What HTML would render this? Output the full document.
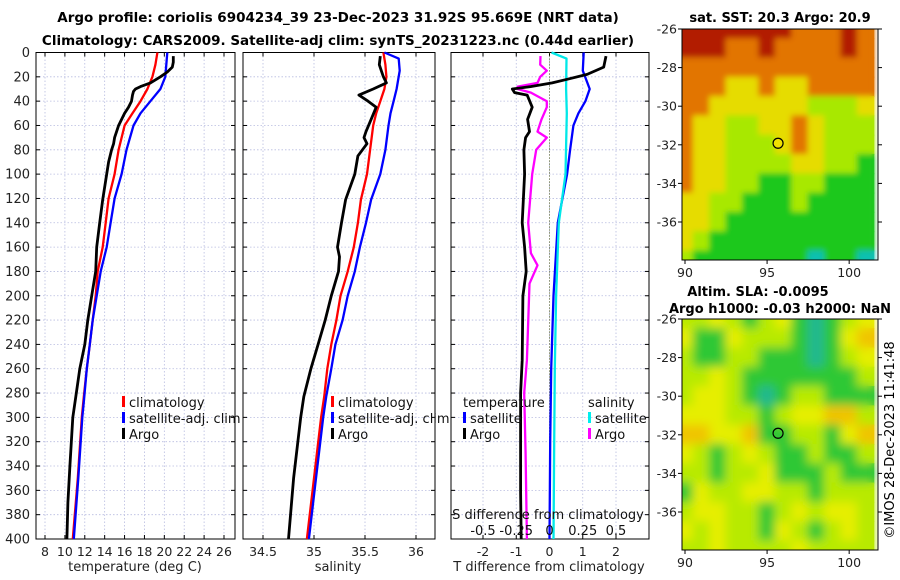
<!DOCTYPE html>
<html><head><meta charset="utf-8">
<style>
html,body{margin:0;padding:0;background:#fff;}
svg{display:block;font-family:"DejaVu Sans","Liberation Sans",sans-serif;}
</style></head>
<body>
<svg id="fig" width="900" height="580" viewBox="0 0 900 580" xmlns="http://www.w3.org/2000/svg">
<rect width="900" height="580" fill="#fff"/>
<text x="338" y="22" font-size="13.5" font-weight="bold" text-anchor="middle">Argo profile: coriolis 6904234_39 23-Dec-2023 31.92S 95.669E (NRT data)</text>
<text x="338" y="45" font-size="13.5" font-weight="bold" text-anchor="middle">Climatology: CARS2009. Satellite-adj clim: synTS_20231223.nc (0.44d earlier)</text>
<text x="780" y="22" font-size="13" font-weight="bold" text-anchor="middle">sat. SST: 20.3 Argo: 20.9</text>
<text x="758" y="296" font-size="13" font-weight="bold" text-anchor="middle">Altim. SLA: -0.0095</text>
<text x="780" y="313" font-size="13" font-weight="bold" text-anchor="middle">Argo h1000: -0.03 h2000: NaN</text>
<text transform="translate(894,440) rotate(-90)" font-size="13" text-anchor="middle">©IMOS 28-Dec-2023 11:41:48</text>
<g id="plots"></g>
</svg>
<script>
// ---------- data ----------
const depthTicks = [0,20,40,60,80,100,120,140,160,180,200,220,240,260,280,300,320,340,360,380,400];
const tTicks = [8,10,12,14,16,18,20,22,24,26];
const sTicks = [34.5,35,35.5,36];
const sTickLabels = ["34.5","35","35.5","36"];
const dtTicks = [-2,-1,0,1,2];
const dsTicks = [-0.5,-0.25,0,0.25,0.5];
const dsTickLabels = ["-0.5","-0.25","0","0.25","0.5"];

const tClimDepth = [0,10,20,30,40,50,60,80,100,120,140,160,180,200,220,240,260,283,300,350,400];
const tClim = [19.3,19.1,18.8,18.3,17.6,16.8,16.0,15.4,15.0,14.4,14.1,13.8,13.3,13.1,12.8,12.5,12.2,11.9,11.7,11.3,10.8];
const tSat = [20.3,20.2,20.1,19.6,18.6,17.6,16.9,16.2,15.7,15.0,14.6,14.2,13.6,13.2,12.8,12.5,12.2,11.95,11.75,11.35,10.9];
const tArgoDepth = [3,8,12,16,20,25,28,30,32,35,40,45,50,55,60,65,70,75,80,90,100,121,140,160,180,200,220,240,260,283,300,340,370,400];
const tArgo = [20.9,20.9,20.8,20.3,19.6,18.6,17.6,17.1,16.9,16.8,16.7,16.4,16.0,15.7,15.4,15.2,15.0,14.9,14.7,14.4,14.2,13.8,13.5,13.2,13.1,12.7,12.3,12.0,11.5,11.1,10.8,10.5,10.3,10.2];

const sClimDepth = [0,10,20,30,40,50,60,80,100,121,140,160,180,200,220,240,260,283,300,350,400];
const sClim = [35.68,35.70,35.71,35.69,35.65,35.61,35.58,35.55,35.52,35.46,35.43,35.39,35.33,35.26,35.22,35.17,35.13,35.10,35.07,35.00,34.93];
const sSatDepth = [0,5,15,30,40,50,60,80,100,121,140,160,180,200,220,240,260,283,300,350,400];
const sSat = [35.69,35.83,35.84,35.81,35.78,35.75,35.73,35.70,35.65,35.56,35.51,35.45,35.40,35.33,35.28,35.21,35.17,35.12,35.09,35.02,34.95];
const sArgoDepth = [3,10,15,20,25,30,35,40,45,55,65,70,75,85,100,121,140,160,168,180,200,220,240,260,283,300,350,400];
const sArgo = [35.65,35.64,35.66,35.68,35.71,35.58,35.44,35.53,35.61,35.56,35.51,35.49,35.52,35.43,35.40,35.31,35.27,35.23,35.25,35.24,35.17,35.11,35.04,34.97,34.90,34.87,34.80,34.75];

const dtSatDepth = [0,15,30,40,50,60,80,100,140,200,260,320,400];
const dtSat = [1.03,1.0,1.21,1.08,0.87,0.72,0.62,0.53,0.25,0.12,0.05,0.02,0.0];
const dsSatDepth = [0,5,30,50,100,140,200,260,320,400];
const dsSat = [0.015,0.128,0.125,0.13,0.12,0.07,0.05,0.04,0.035,0.03];
const dtArgoDepth = [3,12,18,22,25,28,30,33,35,45,55,65,70,80,100,140,160,180,200,253,280,307,362,400];
const dtArgo = [1.70,1.63,1.13,0.53,0.08,-0.57,-1.12,-1.05,-0.67,-0.52,-0.66,-0.60,-0.72,-0.77,-0.75,-0.82,-0.75,-0.70,-0.80,-0.82,-0.87,-0.87,-0.87,-0.85];
const dsArgoDepth = [3,10,15,20,25,28,30,33,40,45,55,65,70,80,100,140,165,175,190,253,280,330,400];
const dsArgo = [-0.068,-0.07,-0.02,-0.07,-0.09,-0.24,-0.24,-0.14,-0.02,-0.02,-0.06,-0.09,-0.02,-0.10,-0.13,-0.16,-0.14,-0.09,-0.15,-0.17,-0.19,-0.18,-0.17];

// map grids (rows from -26 southward, cols from 90E eastward, 1 degree cells)
const sstGrid = [
"000000011101","000110111101","111111111111","111221221111",
"112222223332","122332212333","122333212333","122333322334",
"122334433444","223344434444","223444444444","234444444444","344444445445"];
const slaGrid = [
"221232134321","133122234310","233223334321","221233333332",
"211234322333","111223211002","001103322310","123212332332",
"223221333233","312211223222","211223212112","121223123212","221222212222"];
const argoLon = 95.669, argoLat = -31.92;
const lonTicks = [90,95,100];
const latTicks = [-26,-28,-30,-32,-34,-36];

// ---------- helpers ----------
const NS = "http://www.w3.org/2000/svg";
const root = document.getElementById('plots');
function mk(tag, attrs, parent){const e=document.createElementNS(NS,tag);for(const k in attrs)e.setAttribute(k,attrs[k]);(parent||root).appendChild(e);return e;}
const Y0 = 52.5, Y1 = 539;
function yD(d){return Y0 + d*(Y1-Y0)/400;}
function scale(v0,v1,p0,p1){return v=>p0+(v-v0)*(p1-p0)/(v1-v0);}

function panel(name,x0,x1,xs,ticks,labels,showY){
  const g = mk('g',{});
  
  
  ticks.forEach(t=>{const x=xs(t);
    const l=mk('line',{x1:x,x2:x,y1:Y0,y2:Y1,stroke:'#b8bce0','stroke-width':0.8,'stroke-dasharray':'1.5,2'},g);
    
    
    mk('line',{x1:x,x2:x,y1:Y1,y2:Y1-4,stroke:'#000'},g);
    mk('line',{x1:x,x2:x,y1:Y0,y2:Y0+4,stroke:'#000'},g);
  });
  depthTicks.forEach(d=>{const y=yD(d);
    if(d>0&&d<400){const l=mk('line',{x1:x0,x2:x1,y1:y,y2:y,stroke:'#b8bce0','stroke-width':0.8,'stroke-dasharray':'1.5,2'},g);
      
      }
    mk('line',{x1:x0,x2:x0+4,y1:y,y2:y,stroke:'#000'},g);
    mk('line',{x1:x1,x2:x1-4,y1:y,y2:y,stroke:'#000'},g);
    if(showY){const t=mk('text',{x:x0-6,y:y+4.5,'font-size':13,'text-anchor':'end',fill:'#222'},g);t.textContent=d;
      
      }
  });
  if(labels) ticks.forEach((t,i)=>{const tx=mk('text',{x:xs(t),y:556,'font-size':12.5,'text-anchor':'middle',fill:'#222'},g);tx.textContent=labels[i];
    
    });
  const fr=mk('rect',{x:x0,y:Y0,width:x1-x0,height:Y1-Y0,fill:'none',stroke:'#000','stroke-width':1},g);
  
  
  return g;
}
function line(g,name,xs,vals,depths,color,w){
  const pts = vals.map((v,i)=>xs(v).toFixed(1)+','+yD(depths[i]).toFixed(1)).join(' ');
  const p = mk('polyline',{points:pts,fill:'none',stroke:color,'stroke-width':w||2.3,'stroke-linejoin':'round'},g);
  
  
}
function legend(g,x,y,items){
  items.forEach((it,i)=>{
    if(it.c){const m=mk('rect',{x:x,y:y+i*16-6,width:3,height:11,fill:it.c},g);
      
      }
    const t=mk('text',{x:x+(it.c?7:0),y:y+i*16+5,'font-size':13,fill:'#111'},g);t.textContent=it.t;
    
    
  });
}
function xlabel(text,x,name){const t=mk('text',{x:x,y:571,'font-size':13,'text-anchor':'middle',fill:'#222'});t.textContent=text;
  
  }

// ---------- panel 1: temperature ----------
const xT = scale(8,26,45,224);
const g1 = panel('temperature-panel',36,235,xT,tTicks,tTicks.map(String),true);
line(g1,'temp-climatology-line',xT,tClim,tClimDepth,'#ff0000');
line(g1,'temp-satellite-line',xT,tSat,tClimDepth,'#0000ff');
line(g1,'temp-argo-line',xT,tArgo,tArgoDepth,'#000000',2.8);
legend(g1,122,402,[{t:'climatology',c:'#f00'},{t:'satellite-adj. clim',c:'#00f'},{t:'Argo',c:'#000'}]);
xlabel('temperature (deg C)',135,'temperature-axis-title');

// ---------- panel 2: salinity ----------
const xS = scale(34.5,36,263,416);
const g2 = panel('salinity-panel',243,435,xS,sTicks,sTickLabels,false);
line(g2,'sal-climatology-line',xS,sClim,sClimDepth,'#ff0000');
line(g2,'sal-satellite-line',xS,sSat,sSatDepth,'#0000ff');
line(g2,'sal-argo-line',xS,sArgo,sArgoDepth,'#000000',2.8);
legend(g2,331,402,[{t:'climatology',c:'#f00'},{t:'satellite-adj. clim',c:'#00f'},{t:'Argo',c:'#000'}]);
xlabel('salinity',338,'salinity-axis-title');

// ---------- panel 3: differences ----------
const xDT = scale(-2,2,483,616);
const xDS = scale(-0.5,0.5,483,616);
const g3 = panel('difference-panel',451,649,xDT,dtTicks,dtTicks.map(String),false);
const zl = mk('line',{x1:xDT(0),x2:xDT(0),y1:Y0,y2:Y1,stroke:'#556020','stroke-width':1,'stroke-dasharray':'1,2'},g3);


line(g3,'temp-diff-satellite-line',xDT,dtSat,dtSatDepth,'#0000ff');
line(g3,'sal-diff-satellite-line',xDS,dsSat,dsSatDepth,'#00e8e8');
line(g3,'sal-diff-argo-line',xDS,dsArgo,dsArgoDepth,'#ff00ff');
line(g3,'temp-diff-argo-line',xDT,dtArgo,dtArgoDepth,'#000000',2.8);
legend(g3,463,402,[{t:'temperature'},{t:'satellite',c:'#00f'},{t:'Argo',c:'#000'}]);
legend(g3,588,402,[{t:'salinity'},{t:'satellite',c:'#0ee'},{t:'Argo',c:'#f0f'}]);
const sl=mk('text',{x:548,y:519,'font-size':13,'text-anchor':'middle',fill:'#111'},g3);sl.textContent='S difference from climatology';


dsTicks.forEach((t,i)=>{const tx=mk('text',{x:xDS(t),y:535,'font-size':13,'text-anchor':'middle',fill:'#111'},g3);tx.textContent=dsTickLabels[i];
  
  });
xlabel('T difference from climatology',549,'t-diff-axis-title');

// ---------- maps ----------
const sstCol = ['#b21a00','#e27400','#e6dc00','#a8e800','#1ec81e','#10c0b0'];
const slaCol = ['#f0c400','#e6ee00','#b8ea00','#2ec834','#20b890'];
function map(name,top,grid,cols,blurId){
  const L=682,R=878,B=top+231;
  const xl = scale(90,102,685,882), yl = scale(-26,-38,top,top+231.6);
  const g = mk('g',{});
  
  
  const cid='clip'+top;
  const cp=mk('clipPath',{id:cid},g); mk('rect',{x:L,y:top,width:R-L,height:B-top},cp);
  const cg=mk('g',{'clip-path':'url(#'+cid+')'},g);
  const base=mk('g',{},cg);
  const ig=mk('g',{filter:'url(#'+blurId+')'},cg);
  grid.forEach((row,r)=>{[...row].forEach((c,k)=>{
    const at={x:xl(89.5+k)-0.5,y:yl(-25.5-r)-0.5,width:xl(1)-xl(0)+1,height:yl(-1)-yl(0)+1,fill:cols[+c]};
    mk('rect',at,base);
    const cell=mk('rect',at,ig);
    
    
  });});
  const dot=mk('circle',{cx:xl(argoLon),cy:yl(argoLat),r:5,fill:blurId==='bl'?'none':'#f0e000',stroke:'#000','stroke-width':1.2},g);
  
  
  mk('rect',{x:L,y:top,width:R-L,height:B-top,fill:'none',stroke:'#000','stroke-width':1},g);
  latTicks.forEach(t=>{const y=yl(t);
    mk('line',{x1:L,x2:L-4,y1:y,y2:y,stroke:'#000'},g); mk('line',{x1:R,x2:R+4,y1:y,y2:y,stroke:'#000'},g);
    const tx=mk('text',{x:L-5,y:y+4.5,'font-size':12.5,'text-anchor':'end',fill:'#222'},g);tx.textContent=t;
    
    });
  lonTicks.forEach(t=>{const x=xl(t);
    mk('line',{x1:x,x2:x,y1:B,y2:B+4,stroke:'#000'},g);
    const tx=mk('text',{x:x,y:B+17,'font-size':12.5,'text-anchor':'middle',fill:'#222'},g);tx.textContent=t;
    
    });
}
const defs=mk('defs',{});
const f=mk('filter',{id:'bl',x:'-10%',y:'-10%',width:'120%',height:'120%'},defs);
mk('feGaussianBlur',{stdDeviation:5},f);
const f2=mk('filter',{id:'bl2',x:'-10%',y:'-10%',width:'120%',height:'120%'},defs);
mk('feGaussianBlur',{stdDeviation:3},f2);
map('sst-map',29,sstGrid,sstCol,'bl2');
map('sla-map',319,slaGrid,slaCol,'bl');
</script>
</body></html>
